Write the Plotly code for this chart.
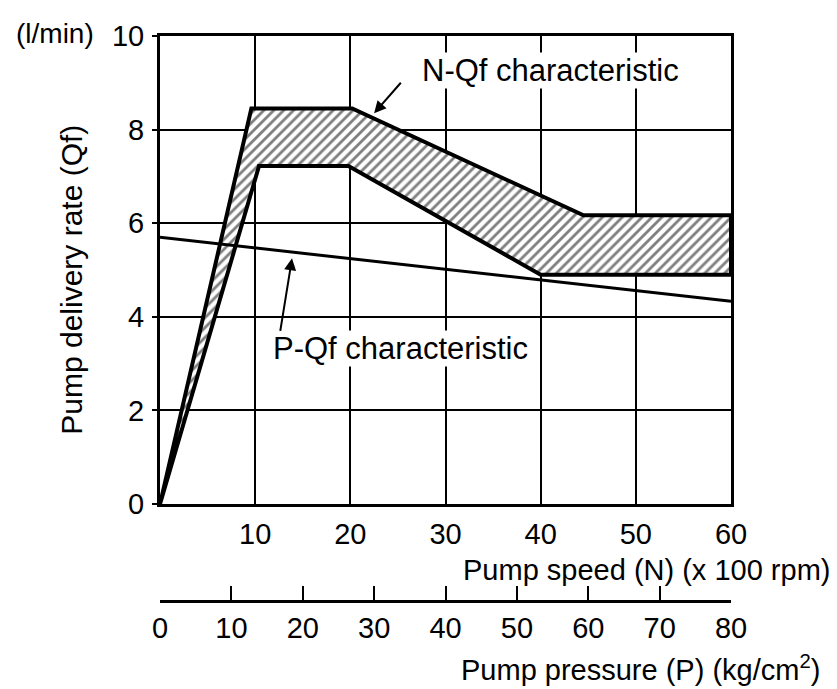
import plotly.graph_objects as go

# ---- data ----
speed_ticks = [10, 20, 30, 40, 50, 60]
qf_ticks = [0, 2, 4, 6, 8, 10]
pressure_ticks = [0, 10, 20, 30, 40, 50, 60, 70, 80]

# N-Qf characteristic band (speed in x100 rpm, Qf in l/min)
nqf_upper_speed = [0, 9.6, 20.2, 44.5, 60]
nqf_upper_qf = [0, 8.45, 8.45, 6.17, 6.17]
nqf_lower_speed = [0, 10.4, 19.8, 40.0, 60]
nqf_lower_qf = [0, 7.22, 7.22, 4.9, 4.9]

# P-Qf characteristic (pressure in kg/cm2)
pqf_pressure = [0, 80]
pqf_qf = [5.7, 4.33]

FONT = "Liberation Sans, Arial, sans-serif"
OFF = 8  # page body margin
W, H = 837 - OFF, 689 - OFF
ML, MR, MT, MB = 160 - OFF, 106, 28 - OFF, 20
PH = H - MT - MB
PW = W - ML - MR
PAPER_BOTTOM = H - MB + OFF  # in screen pixels


def py(pix):
    return (PAPER_BOTTOM - pix) / PH


def px(pix):
    return (pix - 160) / PW


fig = go.Figure()

band_x = nqf_upper_speed + nqf_lower_speed[::-1]
band_y = nqf_upper_qf + nqf_lower_qf[::-1]
fig.add_trace(go.Scatter(
    x=band_x, y=band_y, mode="lines", fill="toself",
    fillcolor="white",
    fillpattern=dict(shape="/", size=7, solidity=0.4, fgcolor="black", bgcolor="white"),
    line=dict(color="black", width=4), showlegend=False, hoverinfo="skip",
))

fig.add_trace(go.Scatter(
    x=pqf_pressure, y=pqf_qf, mode="lines", xaxis="x2", yaxis="y",
    line=dict(color="black", width=3), showlegend=False, hoverinfo="skip",
))

ydom0 = py(508)
TF = dict(size=29, family=FONT)
fig.update_layout(
    width=W, height=H,
    margin=dict(l=ML, r=MR, t=MT, b=MB),
    paper_bgcolor="white", plot_bgcolor="white",
    font=dict(family=FONT, color="black", size=30),
    xaxis=dict(
        range=[0, 60], domain=[0, 1], anchor="y",
        tickvals=speed_ticks, ticktext=[str(v) for v in speed_ticks],
        showgrid=True, gridcolor="black", gridwidth=2,
        showline=True, linecolor="black", linewidth=3, mirror=True,
        ticks="", zeroline=False, ticklabelstandoff=2,
        tickfont=TF,
    ),
    xaxis2=dict(
        range=[0, 80], overlaying="x", anchor="free", position=py(607), side="bottom",
        tickvals=pressure_ticks, ticktext=[str(v) for v in pressure_ticks],
        showgrid=False, showline=True, linecolor="black", linewidth=3,
        ticks="inside", ticklen=14, tickwidth=2, tickcolor="black",
        zeroline=False, ticklabelstandoff=1,
        tickfont=TF,
    ),
    yaxis=dict(
        range=[0, 10], domain=[ydom0, 1], anchor="x",
        tickvals=qf_ticks, ticktext=[str(v) for v in qf_ticks],
        showgrid=True, gridcolor="black", gridwidth=2,
        showline=True, linecolor="black", linewidth=3, mirror=True,
        ticks="outside", ticklen=5, tickwidth=2, tickcolor="black",
        zeroline=False, ticklabelstandoff=2,
        tickfont=TF,
    ),
)

ann = []
# axis titles
ann.append(dict(text="Pump speed (N) (x 100 rpm)", xref="paper", yref="paper",
                x=px(832), y=py(576), xanchor="right", yanchor="middle",
                showarrow=False, font=dict(size=29)))
ann.append(dict(text="Pump pressure (P) (kg/cm<sup>2</sup>)", xref="paper", yref="paper",
                x=px(822), y=py(676), xanchor="right", yanchor="middle",
                showarrow=False, font=dict(size=29)))
ann.append(dict(text="Pump delivery rate (Qf)", xref="paper", yref="paper",
                x=px(72), y=py(278), xanchor="center", yanchor="middle", textangle=-90,
                showarrow=False, font=dict(size=30)))
ann.append(dict(text="(l/min)", xref="paper", yref="paper",
                x=px(55), y=py(25), xanchor="center", yanchor="middle",
                showarrow=False, font=dict(size=28)))
# curve labels
ann.append(dict(text="N-Qf characteristic", xref="x", yref="y",
                x=27.4, y=9.27, xanchor="left", yanchor="middle",
                showarrow=False, bgcolor="white", borderpad=0, font=dict(size=31)))
ann.append(dict(text="P-Qf characteristic", xref="x", yref="y",
                x=11.8, y=3.33, xanchor="left", yanchor="middle",
                showarrow=False, bgcolor="white", borderpad=0, font=dict(size=31)))
# arrows
ann.append(dict(text="", xref="x", yref="y", x=22.5, y=8.35, ax=28, ay=-32,
                showarrow=True, arrowhead=2, arrowsize=1.2, arrowwidth=2, arrowcolor="black"))
ann.append(dict(text="", xref="x2", yref="y", x=18.5, y=5.25, ax=-12, ay=74,
                showarrow=True, arrowhead=2, arrowsize=1.2, arrowwidth=2, arrowcolor="black"))
fig.update_layout(annotations=ann)

fig.write_html("out.html")
